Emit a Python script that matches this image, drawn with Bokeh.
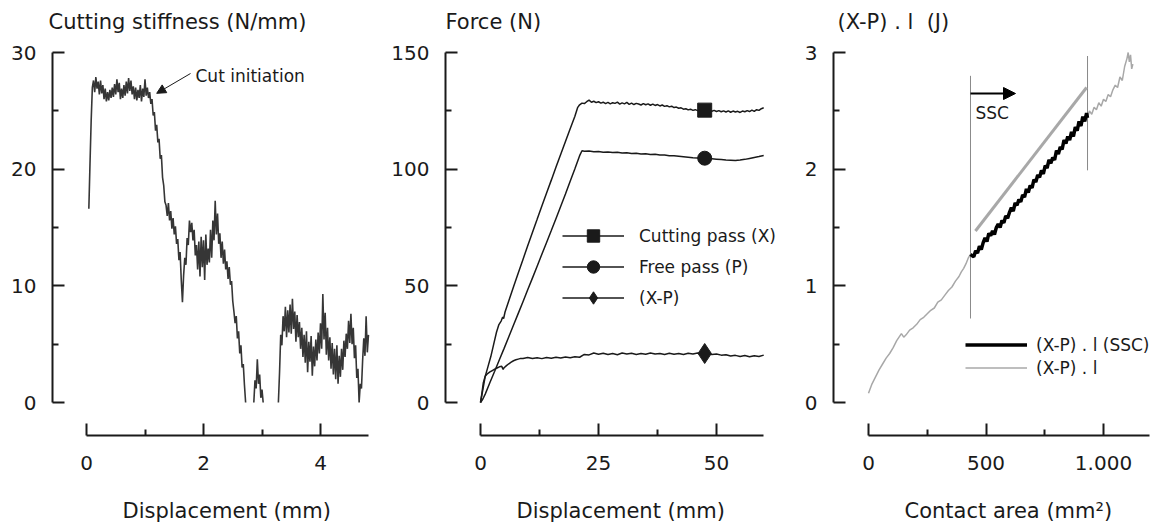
import numpy as np
from bokeh.plotting import figure
from bokeh.layouts import row
from bokeh.models import FixedTicker, Label, Arrow, NormalHead, Legend, LegendItem, Range1d, Title
from bokeh.embed import file_html
from bokeh.resources import INLINE

nan = float("nan")

# ---------------- data ----------------
# Panel 1: cutting stiffness (N/mm) sampled every 0.02 mm from 0.04 mm (NaN = off scale, below 0)
stiff_disp_start = 0.04
stiff_disp_step = 0.02
stiffness = [
    16.6, 20.5, 24.2, 27.0,
    27.6, 26.6, 27.9, 26.9, 27.5, 26.4, 27.6, 26.5, 27.2, 26.0,
    26.9, 25.8, 26.6, 25.9, 26.8, 26.1, 27.0, 26.2, 27.3, 26.4,
    27.7, 26.6, 27.4, 26.0, 26.9, 26.1, 27.2, 26.3, 27.5, 26.5,
    27.8, 26.7, 27.6, 26.4, 27.1, 26.0, 27.0, 25.9, 26.8, 26.1,
    27.2, 25.8, 26.9, 26.2, 27.7, 26.3, 27.0, 26.1, 26.6,
    25.6, 26.0, 24.6, 24.9, 23.3, 23.8, 22.3, 22.6, 20.9, 21.2, 19.3, 18.6, 17.2, 16.9,
    16.0, 17.1, 15.6, 16.4, 14.9, 15.8, 14.4, 15.1, 13.6, 14.0,
    12.2, 12.9, 10.5, 8.6, 10.9,
    12.4, 11.8, 14.1, 13.5, 15.6, 14.6, 15.4,
    13.9, 14.8, 12.6, 13.5, 11.4, 13.8, 10.8, 14.2, 11.6, 13.9, 10.5, 14.4, 11.8, 13.2, 12.0, 14.8, 12.4,
    15.6, 13.9, 17.3, 14.4, 16.2, 13.6,
    14.5, 12.4, 13.8, 11.9, 13.1, 11.4, 12.1, 10.6, 11.6, 10.1, 10.4, 8.7,
    7.8, 6.8, 7.4, 5.5, 6.1, 4.2, 4.9, 3.0, 3.3, 1.5, 0.0,
    nan, nan, nan, nan, nan, nan,
    0.0, 1.9, 1.2, 3.7, 1.6, 2.4, 0.4, 1.1, 0.0,
    nan, nan, nan, nan, nan, nan, nan, nan, nan, nan, nan, nan,
    0.0, 2.6, 5.8, 4.9, 7.4, 6.1, 8.2,
    5.6, 7.9, 6.0, 8.4, 5.9, 8.9, 6.3, 7.8, 5.2, 7.5, 5.6,
    6.9, 4.6, 6.4, 3.9, 5.8, 3.4, 6.1, 2.6, 5.2, 3.5, 5.7, 2.3, 4.8, 3.1, 5.4, 3.6, 6.0,
    4.2, 6.8, 4.6, 9.3, 5.4, 7.7, 4.1, 6.4,
    3.6, 5.6, 2.9, 5.1, 2.4, 4.6, 2.0, 4.9, 1.6, 4.0, 2.2, 4.6, 2.8, 5.3,
    3.9, 5.9, 4.6, 7.0, 5.1, 7.6, 5.0, 6.4,
    3.8, 4.9, 2.1, 2.9, 0.0, 1.6,
    1.2, 3.6, 5.5, 4.0, 7.4, 4.3, 5.8,
]
cut_init_disp, cut_init_stiff = 1.20, 26.5

# Panel 2: forces (N) vs displacement (mm)
cut_rise_disp = [0, 0.5, 1.0, 1.6, 2.2, 2.8, 3.4, 3.9, 4.4, 4.7, 4.9, 5.2, 6, 7, 8, 9, 10, 11, 12,
                 13, 14, 15, 16, 17, 18, 19, 20, 20.6]
cut_rise_force = [0, 5.5, 11.2, 15.5, 19.8, 25.0, 30.2, 33.4, 35.0, 36.6, 36.0, 38.8, 43.6, 49.6, 55.5,
                  61.3, 67.2, 72.9, 78.5, 84.2, 89.8, 95.3, 100.9, 106.4, 111.9, 117.3, 122.7, 126.5]
cut_plateau_start, cut_plateau_step = 21.0, 0.5
cut_plateau_force = [
    127.6, 128.3, 128.1, 128.9, 129.6, 128.7, 129.1, 128.5, 128.9, 128.3,
    128.7, 128.1, 128.6, 128.0, 128.5, 128.2, 128.7, 127.9, 128.4, 128.0,
    128.6, 127.8, 128.3, 127.7, 128.2, 127.9, 127.5, 128.1, 127.6, 128.0,
    127.4, 127.9, 127.3, 127.7, 127.1, 127.5, 126.9, 127.2, 126.7, 127.0,
    126.4, 126.6, 126.1, 126.3, 125.7, 125.9, 125.4, 125.7, 125.2, 125.5,
    125.1, 125.4, 125.0, 125.3, 124.9, 125.3, 124.8, 125.2, 124.7, 125.1,
    124.6, 125.0, 124.5, 125.0, 124.4, 124.9, 124.5, 124.8, 124.3, 124.9,
    124.6, 125.1, 124.7, 125.3, 124.8, 125.5, 125.2, 125.9, 126.3,
]
free_rise_disp = [0, 0.5, 1, 2, 3, 4, 5, 6, 7, 8, 9, 10, 11, 12, 13, 14, 15, 16, 17, 18, 19, 20, 21, 21.5]
free_rise_force = [0, 1.5, 3.6, 8.6, 13.4, 18.3, 23.2, 28.2, 33.2, 38.2, 43.2, 48.3, 53.3, 58.4, 63.5,
                   68.6, 73.7, 78.9, 84.1, 89.4, 94.8, 100.2, 105.8, 107.9]
free_plateau_start, free_plateau_step = 22.0, 1.0
free_plateau_force = [
    107.7, 107.8, 107.5, 107.6, 107.3, 107.4, 107.1, 107.2, 106.9, 107.0,
    106.7, 106.8, 106.5, 106.6, 106.3, 106.4, 106.1, 106.1, 105.8, 105.7,
    105.5, 105.3, 105.1, 104.9, 104.8, 104.7, 104.6, 104.5, 104.3, 104.1,
    103.9, 103.8, 103.7, 103.9, 104.2, 104.6, 105.0, 105.4, 105.9,
]
diff_rise_disp = [0, 0.3, 0.6, 1, 1.5, 2, 2.5, 3, 3.5, 4, 4.5, 4.8, 5, 5.5, 6, 6.5, 7, 7.5, 8, 8.5]
diff_rise_force = [0, 4.0, 8.5, 11.3, 12.4, 13.1, 13.7, 14.3, 14.8, 15.3, 15.5, 14.2, 14.9, 15.8,
                   16.6, 17.3, 17.9, 18.3, 18.6, 18.9]
diff_plateau_start, diff_plateau_step = 9.0, 1.0
diff_plateau_force = [
    18.9, 19.3, 18.9, 19.2, 18.8, 19.3, 19.0, 19.4, 19.1, 19.5,
    19.2, 19.6, 19.4, 20.6, 20.4, 21.2, 20.7, 21.1, 20.6, 21.0,
    20.5, 21.2, 20.8, 21.1, 20.6, 21.0, 20.7, 21.2, 20.8, 21.0,
    20.6, 21.1, 20.7, 21.0, 20.6, 21.1, 20.8, 21.2, 20.9, 21.1,
    20.6, 20.8, 20.3, 20.5, 19.9, 20.2, 19.7, 20.1, 19.6, 20.0,
    19.7, 20.3,
]
marker_disp = [47.5]
marker_cut = [125.3]
marker_free = [104.7]
marker_diff = [21.0]
legend_labels = ["Cutting pass (X)", "Free pass (P)", "(X-P)"]

# Panel 3: (X-P).l energy (J) vs contact area (mm2)
contact_area = [0, 15, 30, 45, 60, 75, 90, 105, 120, 130, 140, 150, 160, 175, 190, 205, 220, 235, 250,
                265, 280, 295, 310, 325, 340, 355, 370, 385, 395, 405, 415, 425, 434,
                440, 448, 456, 464, 472, 480, 488, 496, 504, 512, 520, 528, 536, 544, 552, 560,
                568, 576, 584, 592, 600, 608, 616, 624, 632, 640, 648, 656, 664, 672, 680, 688,
                696, 704, 712, 720, 728, 736, 744, 752, 760, 768, 776, 784, 792, 800, 808, 816,
                824, 832, 840, 848, 856, 864, 872, 880, 888, 896, 904, 912, 920, 928, 932,
                940, 950, 960, 970, 980, 990, 1000, 1010, 1020, 1030, 1040, 1050, 1060, 1070,
                1080, 1090, 1100, 1105, 1110, 1115, 1120, 1125]
energy = [0.08, 0.16, 0.22, 0.28, 0.33, 0.38, 0.42, 0.47, 0.53, 0.56, 0.59, 0.56, 0.58, 0.62, 0.64,
          0.67, 0.71, 0.73, 0.76, 0.79, 0.81, 0.86, 0.88, 0.92, 0.96, 0.99, 1.04, 1.08, 1.12, 1.15,
          1.19, 1.24, 1.27,
          1.26, 1.25, 1.30, 1.28, 1.34, 1.31, 1.37, 1.41, 1.38, 1.45, 1.43, 1.47, 1.44, 1.50, 1.53,
          1.50, 1.56, 1.54, 1.60, 1.58, 1.63, 1.67, 1.64, 1.71, 1.69, 1.74, 1.72, 1.78, 1.76, 1.83,
          1.80, 1.86, 1.84, 1.91, 1.89, 1.95, 1.93, 1.99, 1.96, 2.03, 2.01, 2.08, 2.05, 2.10, 2.08,
          2.16, 2.13, 2.19, 2.17, 2.25, 2.22, 2.28, 2.25, 2.32, 2.28, 2.36, 2.33, 2.41, 2.37, 2.45,
          2.41, 2.48, 2.44,
          2.50, 2.47, 2.53, 2.51, 2.57, 2.54, 2.60, 2.58, 2.64, 2.62, 2.68, 2.72, 2.70, 2.79, 2.76,
          2.88, 2.95, 3.00, 2.92, 2.98, 2.86, 2.90]
ssc_start, ssc_end = 434, 932
ssc_marker_low = [0.72, 1.99]
ssc_marker_high = [2.80, 2.97]
fit_area = [455, 928]
fit_energy = [1.47, 2.70]
energy_labels = ["(X-P) . l (SSC)", "(X-P) . l"]

# ---------------- styling / layout ----------------
FONT = "DejaVu Sans"
INK = "#1a1a1a"
PAGE_H = 526
FRAME_TOP = 40       # page y of frame top (title panel sits above it)
AXIS_TOP_PX = 52     # page y of the top of the value axis
FRAME_BOTTOM = 435   # page y of the detached x axis line
FRAME_H = FRAME_BOTTOM - FRAME_TOP


class Panel:
    def __init__(self, canvas_left, canvas_w, frame_left, px_per_x, x0_page, px_per_y, y_top):
        self.canvas_left, self.frame_left = canvas_left, frame_left
        frame_w = canvas_left + canvas_w - frame_left
        self.frame_w = frame_w
        xs = -(x0_page - frame_left) / px_per_x
        self.xr = (xs, xs + frame_w / px_per_x)
        ye = y_top + (AXIS_TOP_PX - FRAME_TOP) / px_per_y
        self.yr = (ye - FRAME_H / px_per_y, ye)
        p = figure(width=canvas_w, height=PAGE_H,
                   x_range=Range1d(*self.xr), y_range=Range1d(*self.yr),
                   min_border_left=frame_left - canvas_left, min_border_right=0,
                   min_border_top=FRAME_TOP, min_border_bottom=PAGE_H - FRAME_BOTTOM,
                   output_backend="svg", toolbar_location=None, tools="")
        p.outline_line_color = None
        p.xgrid.visible = False
        p.ygrid.visible = False
        p.background_fill_color = "white"
        p.border_fill_color = "white"
        self.p = p

    def d(self, px, py):
        x = self.xr[0] + (px - self.frame_left) / self.frame_w * (self.xr[1] - self.xr[0])
        y = self.yr[1] - (py - FRAME_TOP) / FRAME_H * (self.yr[1] - self.yr[0])
        return x, y

    def text(self, px, py, txt, size):
        x, y = self.d(px, py)
        self.p.add_layout(Label(x=x, y=y, text=txt, text_font=FONT, text_font_size=size,
                                text_color=INK, text_align="left", text_baseline="middle"))

    def title(self, txt, px_left, side, standoff):
        t = Title(text=txt, align="left", offset=px_left - self.frame_left, text_font=FONT,
                  text_font_size="21px", text_font_style="normal", text_color=INK,
                  standoff=standoff)
        self.p.add_layout(t, side)

    def axes(self, xt, xm, yt, ym, xb, yb):
        p = self.p
        p.xaxis.ticker = FixedTicker(ticks=xt, minor_ticks=xm)
        p.yaxis.ticker = FixedTicker(ticks=yt, minor_ticks=ym)
        p.xaxis.bounds = xb
        p.yaxis.bounds = yb
        for ax in (p.xaxis[0], p.yaxis[0]):
            ax.axis_line_width = 2
            ax.axis_line_color = INK
            ax.major_tick_in = 12
            ax.major_tick_out = 0
            ax.minor_tick_in = 6
            ax.minor_tick_out = 0
            ax.major_tick_line_width = 2
            ax.minor_tick_line_width = 2
            ax.major_tick_line_color = INK
            ax.minor_tick_line_color = INK
            ax.major_label_text_font = FONT
            ax.major_label_text_font_size = "20px"
            ax.major_label_text_color = INK
        p.yaxis.major_label_standoff = 16
        p.xaxis.major_label_standoff = 20


TOP_STANDOFF = 14
BOTTOM_STANDOFF = 0

# ---- panel 1 ----
P1 = Panel(0, 385, 52, 58.5, 86, 350 / 30, 30)
stiff_disp = [stiff_disp_start + stiff_disp_step * i for i in range(len(stiffness))]
P1.p.line(stiff_disp, stiffness, line_color="#363636", line_width=1.6)
P1.axes([0, 2, 4], [1, 3], [0, 10, 20, 30], [5, 15, 25], (0, 4.82), (0, 30))
P1.title("Cutting stiffness (N/mm)", 48, "above", TOP_STANDOFF)
P1.title("\nDisplacement (mm)", 122, "below", BOTTOM_STANDOFF)
ax0, ay0 = P1.d(190, 73)
P1.p.add_layout(Arrow(end=NormalHead(size=9, fill_color=INK, line_color=INK, line_width=1),
                      x_start=ax0, y_start=ay0, x_end=cut_init_disp, y_end=cut_init_stiff,
                      line_color=INK, line_width=1))
P1.text(195, 75, "Cut initiation", "17px")

# ---- panel 2 ----
P2 = Panel(385, 405, 445, 4.72, 480, 350 / 150, 150)
p2 = P2.p
cut_x = cut_rise_disp + [cut_plateau_start + cut_plateau_step * i for i in range(len(cut_plateau_force))]
free_x = free_rise_disp + [free_plateau_start + free_plateau_step * i for i in range(len(free_plateau_force))]
diff_x = diff_rise_disp + [diff_plateau_start + diff_plateau_step * i for i in range(len(diff_plateau_force))]
l_cut = p2.line(cut_x, cut_rise_force + cut_plateau_force, line_color=INK, line_width=1.5)
l_free = p2.line(free_x, free_rise_force + free_plateau_force, line_color=INK, line_width=1.5)
l_diff = p2.line(diff_x, diff_rise_force + diff_plateau_force, line_color=INK, line_width=1.5)
m_cut = p2.scatter(marker_disp, marker_cut, marker="square", size=14, color=INK)
m_free = p2.scatter(marker_disp, marker_free, marker="circle", size=14, color=INK)
m_diff = p2.scatter(marker_disp, marker_diff, marker="diamond", size=20, color=INK)
leg2 = Legend(items=[LegendItem(label=legend_labels[0], renderers=[l_cut, m_cut]),
                     LegendItem(label=legend_labels[1], renderers=[l_free, m_free]),
                     LegendItem(label=legend_labels[2], renderers=[l_diff, m_diff])],
              location=(117, 122), glyph_width=62, glyph_height=31, label_height=20, spacing=0,
              label_standoff=15, padding=0, margin=0, border_line_alpha=0, background_fill_alpha=0,
              label_text_font=FONT, label_text_font_size="17px", label_text_color=INK)
p2.add_layout(leg2)
P2.axes([0, 25, 50], [12.5, 37.5], [0, 50, 100, 150], [25, 75, 125], (0, 60), (0, 150))
P2.title("Force (N)", 445, "above", TOP_STANDOFF)
P2.title("\nDisplacement (mm)", 516, "below", BOTTOM_STANDOFF)

# ---- panel 3 ----
P3 = Panel(790, 374, 833, 0.235, 868, 350 / 3, 3)
p3 = P3.p
area = np.array(contact_area, dtype=float)
en = np.array(energy, dtype=float)
in_ssc = (area >= ssc_start) & (area <= ssc_end)
p3.segment(x0=[ssc_start, ssc_end], y0=ssc_marker_low, x1=[ssc_start, ssc_end], y1=ssc_marker_high,
           line_color="#8a8a8a", line_width=1)
l_all = p3.line(area, en, line_color="#a8a8a8", line_width=1.5)
l_ssc = p3.line(area[in_ssc], en[in_ssc], line_color="black", line_width=3.5)
p3.line(fit_area, fit_energy, line_color="#a8a8a8", line_width=3)
sx0, sy0 = P3.d(970, 93)
sx1, sy1 = P3.d(1015, 93)
p3.add_layout(Arrow(end=NormalHead(size=12, fill_color="black", line_color="black"),
                    x_start=ssc_start, y_start=sy0, x_end=sx1, y_end=sy1,
                    line_color="black", line_width=2))
P3.text(975, 112, "SSC", "17px")
leg3 = Legend(items=[LegendItem(label=energy_labels[0], renderers=[l_ssc]),
                     LegendItem(label=energy_labels[1], renderers=[l_all])],
              location=(132, 56), glyph_width=62, glyph_height=23, label_height=20, spacing=0,
              label_standoff=9, padding=0, margin=0, border_line_alpha=0, background_fill_alpha=0,
              label_text_font=FONT, label_text_font_size="17px", label_text_color=INK)
p3.add_layout(leg3)
P3.axes([0, 500, 1000], [250, 750], [0, 1, 2, 3], [0.5, 1.5, 2.5], (0, 1196), (0, 3))
p3.xaxis.major_label_overrides = {1000: "1.000"}
P3.title("(X-P) . l\u00a0 (J)", 837, "above", TOP_STANDOFF)
P3.title("\nContact area (mm²)", 904, "below", BOTTOM_STANDOFF)

layout = row(P1.p, P2.p, P3.p, spacing=0)
open("out.html", "w").write(file_html(layout, INLINE))
